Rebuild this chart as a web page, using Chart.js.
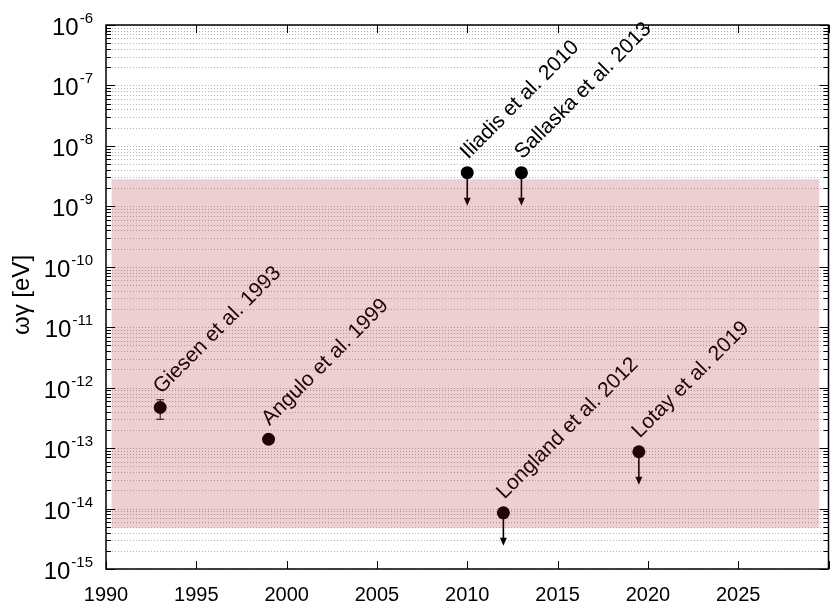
<!DOCTYPE html>
<html>
<head>
<meta charset="utf-8">
<script src="https://cdn.jsdelivr.net/npm/chart.js@4.4.1/dist/chart.umd.min.js"></script>
<style>
  html, body { margin: 0; padding: 0; background: #fff; }
  #wrap { width: 835px; height: 605px; position: relative; }
</style>
</head>
<body>
<div id="wrap"><canvas id="c"></canvas></div>
<script>
// Resonance strength measurements (ωγ, eV) by publication year
const years    = [1993, 1999, 2010, 2012, 2013, 2019.5];
const strength = [4.7e-13, 1.4e-13, 3.6e-9, 8.5e-15, 3.6e-9, 8.7e-14];
const refs     = ['Giesen et al. 1993', 'Angulo et al. 1999', 'Iliadis et al. 2010',
                  'Longland et al. 2012', 'Sallaska et al. 2013', 'Lotay et al. 2019'];
const upperLimit = [false, false, true, true, true, true];
const errLow   = [3.0e-13, null, null, null, null, null];
const errHigh  = [6.3e-13, null, null, null, null, null];

// Allowed range band
const bandYears = [1990.3, 2029.5];
const bandTop   = 2.8e-9;
const bandBottom = 4.8e-15;

// Axis settings
const xTickYears = [1990, 1995, 2000, 2005, 2010, 2015, 2020, 2025, 2030];
const yDecades   = [-15, -14, -13, -12, -11, -10, -9, -8, -7, -6];

const FONT = '"Liberation Sans", Arial, Helvetica, sans-serif';

function minorValues() {
  const vals = [];
  for (let k = 0; k < yDecades.length - 1; k++) {
    for (let m = 1; m <= 9; m++) vals.push(m * Math.pow(10, yDecades[k]));
  }
  vals.push(Math.pow(10, yDecades[yDecades.length - 1]));
  return vals;
}

const decorations = {
  id: 'decorations',
  beforeDatasetsDraw(chart) {
    const { ctx, chartArea: a, scales: { y } } = chart;
    ctx.save();
    ctx.strokeStyle = '#b4b4b4';
    ctx.lineWidth = 1;
    ctx.setLineDash([1, 2]);
    for (const v of minorValues()) {
      const py = Math.round(y.getPixelForValue(v)) + 0.5;
      ctx.beginPath();
      ctx.moveTo(a.left, py);
      ctx.lineTo(a.right, py);
      ctx.stroke();
    }
    ctx.restore();
  },
  beforeDatasetDraw(chart, args) {
    if (args.index !== 0) return;
    const { ctx, scales: { x, y } } = chart;
    ctx.save();
    ctx.strokeStyle = '#000';
    ctx.fillStyle = '#000';
    years.forEach((yr, i) => {
      const px = x.getPixelForValue(yr);
      const py = y.getPixelForValue(strength[i]);
      if (errLow[i] !== null) {
        const lo = y.getPixelForValue(errLow[i]);
        const hi = y.getPixelForValue(errHigh[i]);
        ctx.lineWidth = 1;
        ctx.beginPath();
        ctx.moveTo(px, lo); ctx.lineTo(px, hi);
        ctx.moveTo(px - 4, lo); ctx.lineTo(px + 4, lo);
        ctx.moveTo(px - 4, hi); ctx.lineTo(px + 4, hi);
        ctx.stroke();
      }
      if (upperLimit[i]) {
        const len = 33;
        ctx.lineWidth = 1.6;
        ctx.beginPath();
        ctx.moveTo(px, py);
        ctx.lineTo(px, py + len - 6);
        ctx.stroke();
        ctx.beginPath();
        ctx.moveTo(px - 3.5, py + len - 8);
        ctx.lineTo(px + 3.5, py + len - 8);
        ctx.lineTo(px, py + len);
        ctx.closePath();
        ctx.fill();
      }
    });
    ctx.restore();
  },
  afterDatasetDraw(chart, args) {
    if (args.index !== 0) return;
    const { ctx, scales: { x, y } } = chart;
    ctx.save();
    ctx.fillStyle = '#000';
    ctx.font = '21px ' + FONT;
    ctx.textAlign = 'left';
    ctx.textBaseline = 'alphabetic';
    years.forEach((yr, i) => {
      const px = x.getPixelForValue(yr);
      const py = y.getPixelForValue(strength[i]);
      ctx.save();
      ctx.translate(px + 1, py - 13);
      ctx.rotate(-Math.PI / 4);
      ctx.fillText(refs[i], 0, 0);
      ctx.restore();
    });
    ctx.restore();
  },
  afterDraw(chart) {
    const { ctx, chartArea: a, scales: { x, y } } = chart;
    ctx.save();
    ctx.strokeStyle = '#000';
    ctx.lineWidth = 1;
    // y-axis tick marks (left and right, pointing inward)
    for (const v of minorValues()) {
      const py = Math.round(y.getPixelForValue(v)) + 0.5;
      const major = Math.abs(Math.log10(v) - Math.round(Math.log10(v))) < 1e-9;
      const len = major ? 9 : 5;
      ctx.beginPath();
      ctx.moveTo(a.left, py); ctx.lineTo(a.left + len, py);
      ctx.moveTo(a.right, py); ctx.lineTo(a.right - len, py);
      ctx.stroke();
    }
    // x-axis tick marks (bottom and top, pointing inward)
    for (const yr of xTickYears) {
      const px = Math.round(x.getPixelForValue(yr)) + 0.5;
      ctx.beginPath();
      ctx.moveTo(px, a.bottom); ctx.lineTo(px, a.bottom - 8);
      ctx.moveTo(px, a.top); ctx.lineTo(px, a.top + 8);
      ctx.stroke();
    }
    // frame
    ctx.lineWidth = 1.5;
    ctx.strokeRect(a.left, a.top, a.right - a.left, a.bottom - a.top);

    // y tick labels: 10 with raised exponent
    ctx.fillStyle = '#000';
    ctx.textBaseline = 'alphabetic';
    ctx.textAlign = 'left';
    const rightEdge = a.left - 14;
    for (const e of yDecades) {
      const py = y.getPixelForValue(Math.pow(10, e));
      const exp = '-' + Math.abs(e);
      ctx.font = '15px ' + FONT;
      const we = ctx.measureText(exp).width;
      ctx.font = '24px ' + FONT;
      const wb = ctx.measureText('10').width;
      const x0 = rightEdge - we - wb;
      ctx.fillText('10', x0, py + 10);
      ctx.font = '15px ' + FONT;
      ctx.fillText(exp, x0 + wb + 1, py - 2);
    }

    // y axis title
    ctx.save();
    ctx.translate(29, (a.top + a.bottom) / 2 - 2);
    ctx.rotate(-Math.PI / 2);
    ctx.textAlign = 'center';
    ctx.font = '24px ' + FONT;
    ctx.fillText('ωγ [eV]', 0, 0);
    ctx.restore();
    ctx.restore();
  }
};

new Chart(document.getElementById('c'), {
  data: {
    datasets: [
      {
        type: 'scatter',
        data: years.map((yr, i) => ({ x: yr, y: strength[i] })),
        pointRadius: 6.5,
        pointHoverRadius: 6.5,
        backgroundColor: '#000',
        borderWidth: 0,
        order: 1
      },
      {
        type: 'line',
        data: [{ x: bandYears[0], y: bandTop }, { x: bandYears[1], y: bandTop }],
        fill: { value: bandBottom },
        backgroundColor: 'rgba(165, 15, 25, 0.2)',
        borderWidth: 0,
        pointRadius: 0,
        order: 0
      }
    ]
  },
  options: {
    responsive: true,
    maintainAspectRatio: false,
    animation: false,
    events: [],
    layout: { padding: { top: 25, right: 3, left: 0, bottom: 0 } },
    plugins: { legend: { display: false }, tooltip: { enabled: false } },
    scales: {
      x: {
        type: 'linear',
        min: 1990,
        max: 2030,
        grid: { display: false },
        border: { display: false },
        afterBuildTicks: (scale) => { scale.ticks = xTickYears.map(v => ({ value: v })); },
        afterFit: (scale) => { scale.height = 36; },
        ticks: {
          color: '#000',
          font: { family: FONT, size: 20 },
          padding: 6,
          maxRotation: 0,
          autoSkip: false,
          callback: (v) => (v === 2030 ? '' : String(v))
        }
      },
      y: {
        type: 'logarithmic',
        min: 1e-15,
        max: 1e-6,
        grid: { display: false },
        border: { display: false },
        ticks: { display: false },
        afterFit: (scale) => { scale.width = 106; }
      }
    }
  },
  plugins: [decorations]
});
</script>
</body>
</html>
